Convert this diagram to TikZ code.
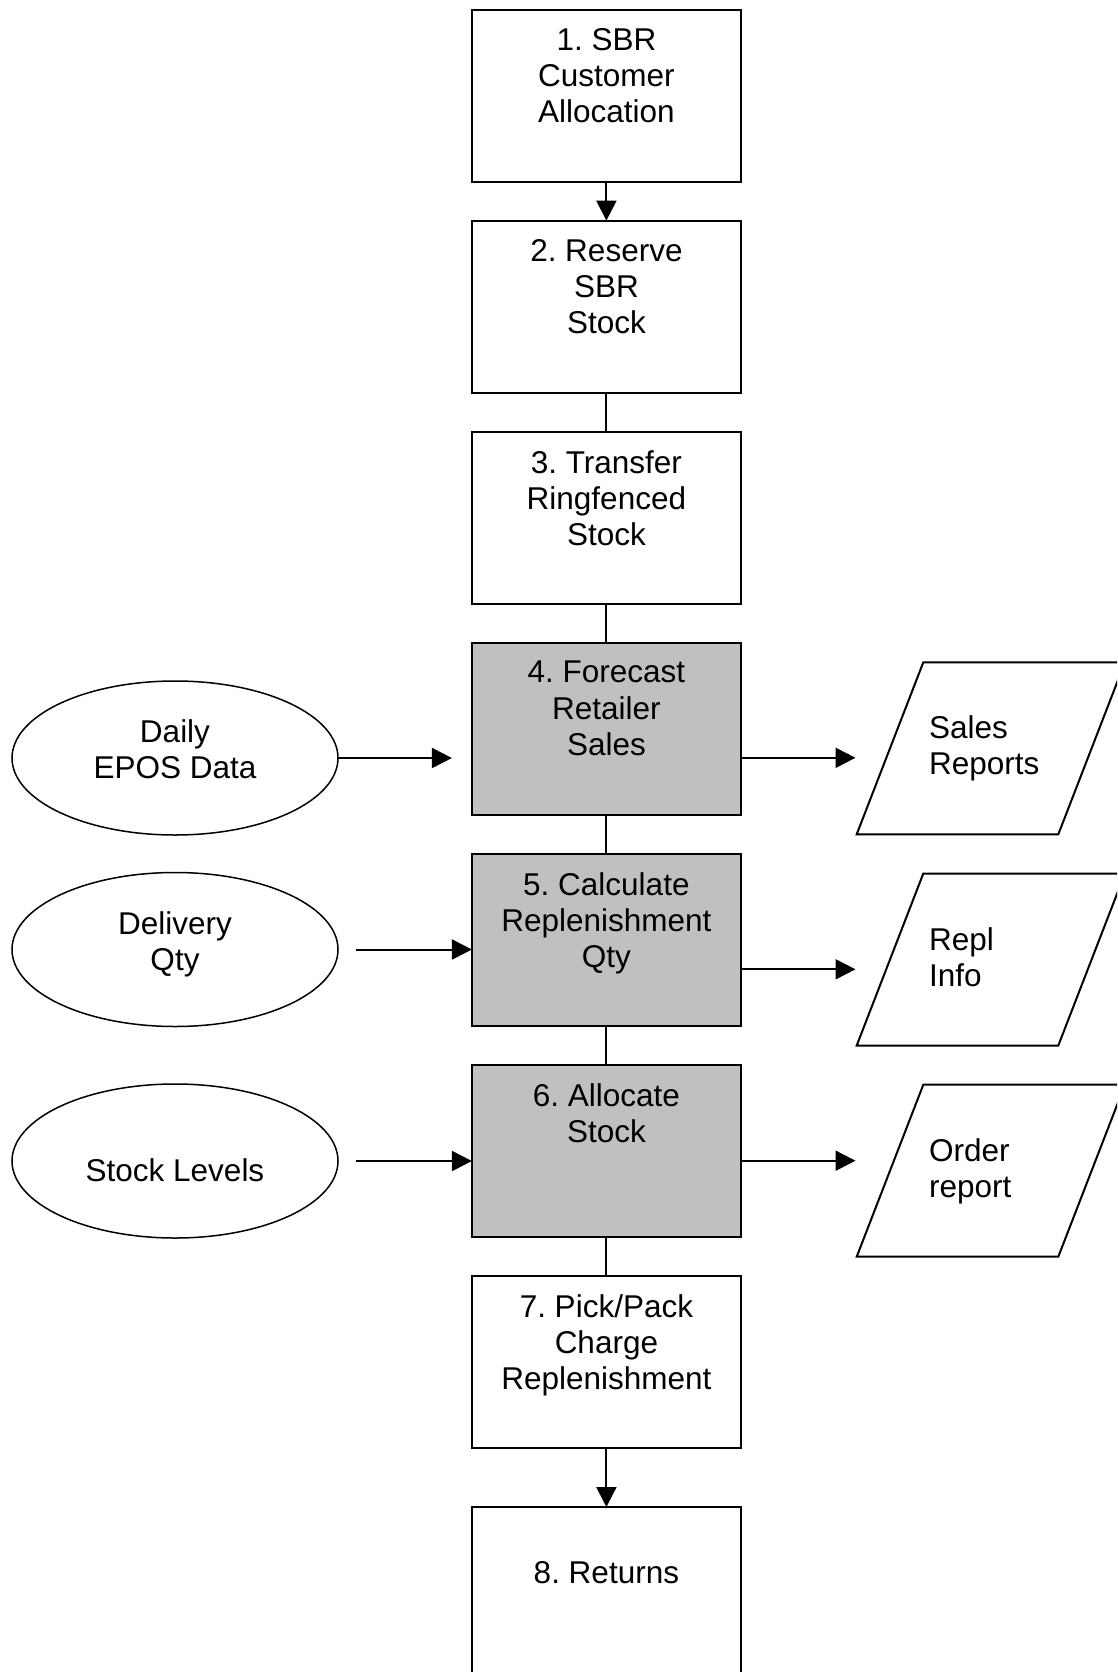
\documentclass[tikz,border=0pt]{standalone}
\usepackage{fontspec}
\setmainfont{Liberation Sans}
\usetikzlibrary{arrows.meta,shapes.geometric}
\definecolor{boxgray}{RGB}{192,192,192}
\frenchspacing
\begin{document}
\begin{tikzpicture}[x=1pt,y=-1pt,
  font=\fontsize{31.5}{36.2}\selectfont,
  stepbox/.style={draw,line width=2pt,minimum width=269pt,minimum height=172.7pt,
    inner sep=0pt,outer sep=0pt,anchor=north},
  shaded/.style={stepbox,fill=boxgray},
  boxtext/.style={anchor=north,align=center,inner sep=0pt},
  sidetext/.style={anchor=north west,align=left,inner sep=0pt},
  source/.style={draw,ellipse,line width=1.5pt,minimum width=326pt,minimum height=154pt,
    inner sep=0pt,outer sep=0pt},
  flow/.style={line width=2pt},
  arr/.style={line width=2pt,-{Triangle[length=20pt,width=20pt]}},
  report/.style={draw,line width=2pt,line join=miter}]

\useasboundingbox (0,0) rectangle (1117,1672);
\clip (0,0) rectangle (1117,1672);

% process steps
\node[stepbox] (b1) at (606.4,9.6) {};
\node[stepbox] (b2) at (606.4,220.6) {};
\node[stepbox] (b3) at (606.4,431.6) {};
\node[shaded]  (b4) at (606.4,642.6) {};
\node[shaded]  (b5) at (606.4,853.6) {};
\node[shaded]  (b6) at (606.4,1064.6) {};
\node[stepbox] (b7) at (606.4,1275.6) {};
\node[stepbox] (b8) at (606.4,1507.0) {};

\node[boxtext] (t1) at ([yshift=-18.5pt]b1.north) {1. SBR\\Customer\\Allocation};
\node[boxtext] (t2) at ([yshift=-18.5pt]b2.north) {2. Reserve\\SBR\\Stock};
\node[boxtext] (t3) at ([yshift=-18.5pt]b3.north) {3. Transfer\\Ringfenced\\Stock};
\node[boxtext] (t4) at ([yshift=-18.5pt]b4.north) {4. Forecast\\Retailer\\Sales};
\node[boxtext] (t5) at ([yshift=-18.5pt]b5.north) {5. Calculate\\Replenishment\\Qty};
\node[boxtext] (t6) at ([yshift=-18.5pt]b6.north) {6. Allocate\\Stock};
\node[boxtext] (t7) at ([yshift=-18.5pt]b7.north) {7. Pick/Pack\\Charge\\Replenishment};
\node[boxtext] (t8) at ([yshift=-54pt]b8.north) {8. Returns};

% links between steps
\draw[arr]  (b1.south) -- (b2.north);
\draw[flow] (b2.south) -- (b3.north);
\draw[flow] (b3.south) -- (b4.north);
\draw[flow] (b4.south) -- (b5.north);
\draw[flow] (b5.south) -- (b6.north);
\draw[flow] (b6.south) -- (b7.north);
\draw[arr]  (b7.south) -- (b8.north);

% data sources
\node[source] (e1) at (175,758) {};
\node[source] (e2) at (175,949.5) {};
\node[source] (e3) at (175,1161) {};
\node[boxtext] (s1) at (175,719) {Daily\\EPOS Data};
\node[boxtext] (s2) at (175,911) {Delivery\\Qty};
\node[boxtext] (s3) at (175,1158) {Stock Levels};

\draw[arr,shorten >=20pt] (e1.east) -- (e1.east -| b4.west);
\draw[arr,shorten <=18pt] (e2.east) -- (e2.east -| b5.west);
\draw[arr,shorten <=18pt] (e3.east) -- (e3.east -| b6.west);

% outputs
\coordinate (r1) at (855.5,757.8);
\coordinate (r2) at (855.5,969.3);
\coordinate (r3) at (855.5,1160.7);
\draw[arr] (b4.east |- r1) -- (r1);
\draw[arr] (b5.east |- r2) -- (r2);
\draw[arr] (b6.east |- r3) -- (r3);

\coordinate (p1) at (856.7,834.3);
\coordinate (p2) at (856.7,1045.5);
\coordinate (p3) at (856.7,1256.7);
\foreach \p in {p1,p2,p3}
  \draw[report] (\p) -- ++(201.6,0) -- ++(66.6,-172) -- ++(-201.6,0) -- cycle;

\node[sidetext] (o1) at (929,715) {Sales\\Reports};
\node[sidetext] (o2) at (929,927) {Repl\\Info};
\node[sidetext] (o3) at (929,1138) {Order\\report};
\end{tikzpicture}
\end{document}
